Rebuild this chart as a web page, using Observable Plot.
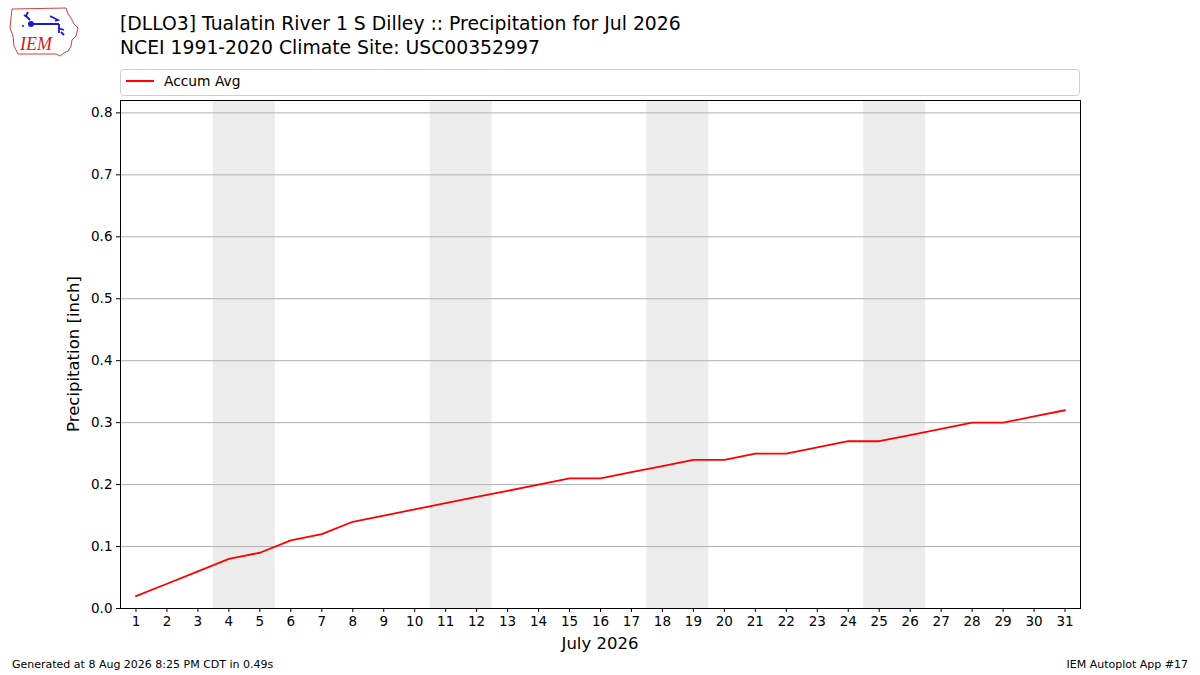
<!DOCTYPE html>
<html>
<head>
<meta charset="utf-8">
<script src="https://cdn.jsdelivr.net/npm/d3@7"></script>
<script src="https://cdn.jsdelivr.net/npm/@observablehq/plot@0.6"></script>
<style>
  html, body { margin: 0; padding: 0; background: #fff; }
  body { width: 1200px; height: 675px; position: relative; overflow: hidden; font-family: "DejaVu Sans", sans-serif; color: #000; }
  .abs { position: absolute; white-space: nowrap; }
  #chart { position: absolute; left: 0; top: 0; }
</style>
</head>
<body>
<div id="chart"></div>
<svg class="abs" style="left:8px;top:6px" width="72" height="52" viewBox="0 0 72 52">
  <path d="M4,3 L58,2 L60,8 L63,12 L66,18 L70,22 L68,30 L64,34 L63,40 L60,45 L56,47 L52,50 L48,48 L10,48 L6,40 L5,30 L2,22 L3,12 Z" fill="none" stroke="#d04040" stroke-width="1"/>
  <path d="M20,6 L18,10 L22,14 M16,9 L19,11 M22,18 L51,18 M42,10 L50,14 L47,15 M51,18 L51,27 M50,22 L56,24 M53,26 L56,29" stroke="#1a1ad0" stroke-width="1.8" fill="none"/>
  <circle cx="23" cy="18" r="3" fill="#1a1ad0"/>
  <circle cx="15" cy="20" r="1" fill="#1a1ad0"/>
  <text x="12" y="44" font-family="Liberation Serif, serif" font-style="italic" font-size="18" fill="#d02020">IEM</text>
</svg>
<div class="abs" style="left:120px;top:12px;font-size:18.8px;line-height:24px">[DLLO3] Tualatin River 1 S Dilley :: Precipitation for Jul 2026<br>NCEI 1991-2020 Climate Site: USC00352997</div>
<div class="abs" style="left:120px;top:69px;width:958px;height:25px;border:1px solid #d0d0d0;border-radius:4px;background:#fff"></div>
<div class="abs" style="left:126px;top:80px;width:28px;height:2px;background:red"></div>
<div class="abs" style="left:164px;top:73px;font-size:13.8px">Accum Avg</div>
<div class="abs" style="left:600px;top:634px;font-size:16.5px;transform:translateX(-50%)">July 2026</div>
<div class="abs" style="left:73px;top:354px;font-size:16.5px;transform:translate(-50%,-50%) rotate(-90deg)">Precipitation [inch]</div>
<div class="abs" style="left:12px;top:658px;font-size:11px">Generated at 8 Aug 2026 8:25 PM CDT in 0.49s</div>
<div class="abs" style="right:12px;top:658px;font-size:11px">IEM Autoplot App #17</div>
<script>
const days = d3.range(1, 32);
const accumAvg = [0.02,0.04,0.06,0.08,0.09,0.11,0.12,0.14,0.15,0.16,0.17,0.18,0.19,0.20,0.21,0.21,0.22,0.23,0.24,0.24,0.25,0.25,0.26,0.27,0.27,0.28,0.29,0.30,0.30,0.31,0.32];
const weekends = [[4,5],[11,12],[18,19],[25,26]];
const yTicks = [0,0.1,0.2,0.3,0.4,0.5,0.6,0.7,0.8];

const data = days.map((d, i) => ({day: d, val: accumAvg[i]}));

const chart = Plot.plot({
  width: 1200,
  height: 675,
  marginLeft: 120,
  marginRight: 120,
  marginTop: 100,
  marginBottom: 67,
  style: {fontFamily: "DejaVu Sans, sans-serif", fontSize: "13.5px", color: "#000", background: "transparent"},
  x: {domain: [0.5, 31.5], label: null},
  y: {domain: [0, 0.82], label: null},
  marks: [
    Plot.rect(weekends, {x1: d => d[0] - 0.5, x2: d => d[1] + 0.5, y1: 0, y2: 0.82, fill: "#ececec"}),
    Plot.gridY(yTicks, {stroke: "#b0b0b0", strokeOpacity: 1, strokeWidth: 1}),
    Plot.lineY(data, {x: "day", y: "val", stroke: "red", strokeWidth: 1.8}),
    Plot.axisX(days, {tickSize: 4, tickPadding: 4, tickFormat: d => String(d), label: null, stroke: "#000"}),
    Plot.axisY(yTicks, {tickSize: 4, tickPadding: 4, tickFormat: d3.format(".1f"), label: null, stroke: "#000"}),
    Plot.frame({stroke: "#000", strokeWidth: 1})
  ]
});
document.getElementById("chart").appendChild(chart);
</script>
</body>
</html>
